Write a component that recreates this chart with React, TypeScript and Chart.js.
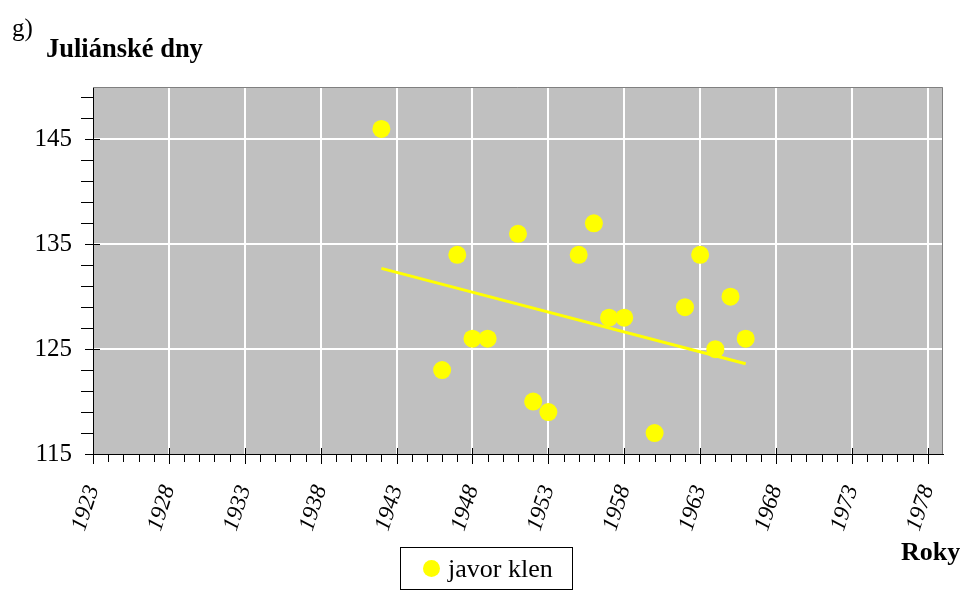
import React, { useEffect, useRef } from "react";
import { Chart, registerables } from "chart.js";

Chart.register(...registerables);

const years = [1942, 1946, 1947, 1948, 1949, 1951, 1952, 1953, 1955, 1956, 1957, 1958, 1960, 1962, 1963, 1964, 1965, 1966];
const days = [146, 123, 134, 126, 126, 136, 120, 119, 134, 137, 128, 128, 117, 129, 134, 125, 130, 126];
const trendYears = [1942, 1966];
const trendDays = [132.7, 123.6];
const xMajorLabels = [1923, 1928, 1933, 1938, 1943, 1948, 1953, 1958, 1963, 1968, 1973, 1978];
const yMajorLabels = [115, 125, 135, 145];
const xMin = 1923, xMax = 1979, yMin = 115, yMax = 150;

const SERIF = "'Liberation Serif', 'Times New Roman', serif";

export default function App() {
  const ref = useRef<HTMLCanvasElement>(null);
  useEffect(() => {
    const canvas = ref.current!;
    const bgPlugin = {
      id: "bgPlugin",
      beforeDraw(chart: any) {
        const { ctx, chartArea: a } = chart;
        ctx.save();
        ctx.fillStyle = "#c0c0c0";
        ctx.fillRect(a.left, a.top, a.right - a.left, a.bottom - a.top);
        ctx.restore();
      },
      afterDraw(chart: any) {
        const { ctx, chartArea: a } = chart;
        const xs = chart.scales.x, ys = chart.scales.y;
        ctx.save();
        ctx.strokeStyle = "#808080";
        ctx.lineWidth = 1;
        ctx.beginPath();
        ctx.moveTo(a.left, a.top + 0.5);
        ctx.lineTo(a.right - 0.5, a.top + 0.5);
        ctx.lineTo(a.right - 0.5, a.bottom);
        ctx.stroke();
        ctx.strokeStyle = "#000";
        ctx.beginPath();
        for (let v = xMin; v < xMax; v++) {
          const px = Math.round(xs.getPixelForValue(v)) + 0.5;
          const major = xMajorLabels.includes(v);
          ctx.moveTo(px, a.bottom + (major ? -6 : 0));
          ctx.lineTo(px, a.bottom + (major ? 10 : 8));
        }
        for (let v = yMin; v < yMax; v += 2) {
          const py = Math.round(ys.getPixelForValue(v)) + 0.5;
          const major = yMajorLabels.includes(v);
          ctx.moveTo(a.left - (major ? 8 : 12), py);
          ctx.lineTo(a.left + (major ? 7 : 0), py);
        }
        ctx.stroke();
        ctx.restore();
      },
    };
    const chart = new Chart(canvas, {
      type: "scatter",
      data: {
        datasets: [
          {
            label: "javor klen",
            data: years.map((y, i) => ({ x: y, y: days[i] })),
            backgroundColor: "#ffff00",
            borderColor: "#ffff00",
            pointRadius: 9,
            pointHoverRadius: 9,
            borderWidth: 0,
            order: 1,
          },
          {
            label: "trend",
            type: "line",
            data: trendYears.map((y, i) => ({ x: y, y: trendDays[i] })),
            borderColor: "#ffff00",
            borderWidth: 3,
            pointRadius: 0,
            showLine: true,
            fill: false,
            order: 0,
          } as any,
        ],
      },
      options: {
        responsive: false,
        animation: false,
        devicePixelRatio: 1,
        layout: { padding: { left: 0, top: 87, right: 28, bottom: 0 } },
        plugins: { legend: { display: false }, tooltip: { enabled: false }, title: { display: false } },
        scales: {
          x: {
            type: "linear",
            min: xMin,
            max: xMax,
            afterBuildTicks(scale: any) {
              const t = [];
              for (let v = xMin; v <= xMax; v++) t.push({ value: v });
              scale.ticks = t;
            },
            afterFit(scale: any) {
              scale.height = 151;
              scale.paddingLeft = 0;
              scale.paddingRight = 0;
            },
            ticks: {
              autoSkip: false,
              maxRotation: 72,
              minRotation: 72,
              padding: 28,
              color: "#000",
              font: { family: SERIF, size: 23, style: "italic" },
              callback: (v: any) => (xMajorLabels.includes(Number(v)) ? String(v) : ""),
            },
            grid: {
              drawTicks: false,
              color: (c: any) => (c.tick && xMajorLabels.includes(c.tick.value) && c.tick.value !== xMin ? "#ffffff" : "rgba(0,0,0,0)"),
              lineWidth: 2,
            },
            border: { display: true, color: "#000", width: 1 },
          },
          y: {
            type: "linear",
            min: yMin,
            max: yMax,
            afterBuildTicks(scale: any) {
              const t = [];
              for (let v = yMin; v < yMax; v += 2) t.push({ value: v });
              scale.ticks = t;
            },
            afterFit(scale: any) {
              scale.width = 93;
            },
            ticks: {
              autoSkip: false,
              padding: 21,
              color: "#000",
              font: { family: SERIF, size: 25 },
              callback: (v: any) => (yMajorLabels.includes(Number(v)) ? String(v) : ""),
            },
            grid: {
              drawTicks: false,
              color: (c: any) => (c.tick && yMajorLabels.includes(c.tick.value) && c.tick.value !== yMin ? "#ffffff" : "rgba(0,0,0,0)"),
              lineWidth: 2,
            },
            border: { display: true, color: "#000", width: 1 },
          },
        },
      },
      plugins: [bgPlugin],
    });
    return () => chart.destroy();
  }, []);

  return (
    <div style={{ position: "fixed", left: 0, top: 0, width: 971, height: 605, background: "#fff", fontFamily: SERIF, color: "#000" }}>
      <canvas ref={ref} width={971} height={605} style={{ position: "absolute", left: 0, top: 0 }} />
      <div style={{ position: "absolute", left: 12, top: 14, fontSize: 25 }}>g)</div>
      <div style={{ position: "absolute", left: 46, top: 33, fontSize: 26.5, fontWeight: "bold" }}>Juliánské dny</div>
      <div style={{ position: "absolute", left: 901, top: 537, fontSize: 26, fontWeight: "bold" }}>Roky</div>
      <div style={{ position: "absolute", left: 400, top: 547, width: 173, height: 43, border: "1px solid #000", boxSizing: "border-box", display: "flex", alignItems: "center" }}>
        <span style={{ display: "inline-block", width: 17, height: 17, borderRadius: "50%", background: "#ffff00", marginLeft: 22, marginRight: 8 }} />
        <span style={{ fontSize: 26 }}>javor klen</span>
      </div>
    </div>
  );
}
